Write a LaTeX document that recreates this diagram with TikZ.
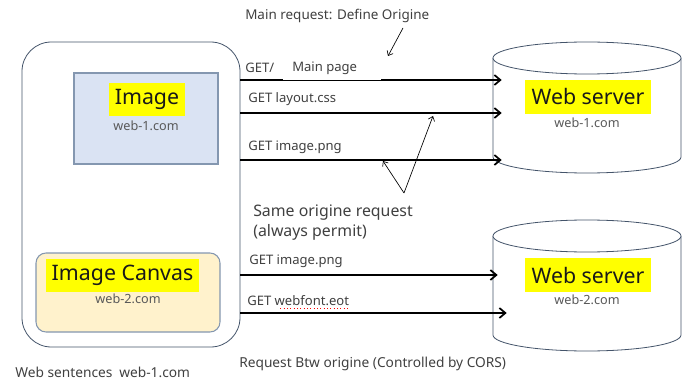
\documentclass[tikz,border=0pt]{standalone}
\usepackage{fontspec}
\setmainfont{Noto Sans}
\usetikzlibrary{arrows.meta,calc}
\definecolor{boxblue}{HTML}{DAE3F3}
\definecolor{boxcream}{HTML}{FFF2CC}
\definecolor{edgeblue}{HTML}{8497B0}
\definecolor{edgedark}{HTML}{44546A}
\definecolor{hilite}{HTML}{FFFF00}
\definecolor{labelgray}{HTML}{404040}
\definecolor{domaingray}{HTML}{595959}
\tikzset{
  request/.style={line width=1.5pt,-{Straight Barb[length=4.5pt,width=7.5pt,line width=1.3pt]}},
  pointer/.style={line width=0.5pt,-{Straight Barb[length=3pt,width=5pt]}},
  reqtext/.style={font=\fontsize{9.8}{11}\selectfont,text=labelgray,inner sep=0pt,anchor=west},
  notetext/.style={font=\fontsize{11.9}{14}\selectfont,text=labelgray,inner sep=0pt,anchor=west},
  hltitle/.style={fill=hilite,inner sep=0pt,font=\fontsize{16}{18}\selectfont,text=black!90},
  domtext/.style={font=\fontsize{9.5}{11}\selectfont,text=domaingray,inner sep=0pt},
  cyl/.style={draw=edgedark,line width=0.6pt,fill=white}
}
\begin{document}
\begin{tikzpicture}[x=0.75pt,y=-0.75pt]
\useasboundingbox (0,0) rectangle (688,381);

% browser page with its two embedded resources
\node[draw=edgedark,line width=0.6pt,rounded corners=22pt,minimum width=163.5pt,minimum height=228.75pt] (page) at (131,194.5) {};
\node[draw=edgeblue,fill=boxblue,line width=0.8pt,minimum width=108pt,minimum height=68.25pt] (img) at (146,118.5) {};
\node[hltitle,minimum width=57pt,minimum height=24.75pt] (imgt) at (147,99.5) {Image};
\node[domtext] (imgd) at (146,126) {web-1.com};
\node[draw=edgeblue,fill=boxcream,line width=0.8pt,rounded corners=7.5pt,minimum width=138pt,minimum height=59.25pt] (canvas) at (128,292.5) {};
\node[hltitle,minimum width=114.75pt,minimum height=24.75pt] (canvast) at (122.5,275.5) {Image Canvas};
\node[domtext] (canvasd) at (128,299) {web-2.com};
\node[reqtext,font=\fontsize{10.3}{12}\selectfont] (pagecap) at (15,372) {Web sentences\enspace web-1.com};

% the two servers, drawn as cylinders
\node[minimum width=141pt,minimum height=97.5pt] (srv1) at (587,107) {};
\draw[cyl] (493,58) -- (493,157) arc[start angle=180,end angle=0,x radius=94,y radius=16] -- (681,58);
\draw[cyl] (587,58) ellipse [x radius=94,y radius=16];
\node[hltitle,minimum width=94.5pt,minimum height=25.5pt] (srv1t) at (588,97) {Web server};
\node[domtext] (srv1d) at (587,123) {web-1.com};

\node[minimum width=141pt,minimum height=98pt] (srv2) at (587,285) {};
\draw[cyl] (493,236) -- (493,335) arc[start angle=180,end angle=0,x radius=94,y radius=16] -- (681,236);
\draw[cyl] (587,236) ellipse [x radius=94,y radius=16];
\node[hltitle,minimum width=94.5pt,minimum height=25.5pt] (srv2t) at (588,275) {Web server};
\node[domtext] (srv2d) at (587,300) {web-2.com};

% same-origin requests
\draw[line width=1.5pt] (page.east |- 0,80) -- (283,80);
\draw[line width=0.6pt] (283,80) -- (381,80);
\draw[request] (381,80) -- ($(srv1.west |- 0,80)+(9,0)$);
\draw[request] (page.east |- 0,113) -- ($(srv1.west |- 0,113)+(9,0)$);
\draw[request] (page.east |- 0,160) -- ($(srv1.west |- 0,160)+(9,0)$);
\node[reqtext] (r1) at (245,68) {GET/};
\node[reqtext] (r1b) at (292,68) {Main page};
\node[reqtext] (r2) at (248,99) {GET layout.css};
\node[reqtext] (r3) at (248,147) {GET image.png};

% cross-origin requests
\draw[request] (page.east |- 0,275) -- ($(srv2.west |- 0,275)+(5,0)$);
\draw[request] (page.east |- 0,313) -- ($(srv2.west |- 0,313)+(14,0)$);
\node[reqtext] (r4) at (249,261) {GET image.png};
\node[reqtext] (r5) at (247,301) {GET webfont.eot};
\draw[red,line width=0.5pt,dotted] ($(r5.south east)+(-69,2)$) -- ($(r5.south east)+(0,2)$);

% notes and their pointers
\node[reqtext,font=\fontsize{10.1}{12}\selectfont] (mainnote) at (245,16) {Main request: Define Origine};
\coordinate (mainfrom) at (403,28);
\coordinate (mainto) at (388,56);
\draw[pointer] (mainfrom) -- (mainto);
\node[notetext] (same1) at (253,213) {Same origine request};
\node[notetext] (same2) at (253,232) {(always permit)};
\coordinate (fork) at (404,193);
\coordinate (forka) at (433,116);
\coordinate (forkb) at (383,161);
\draw[pointer] (fork) -- (forka);
\draw[pointer] (fork) -- (forkb);
\node[reqtext,font=\fontsize{10.3}{12}\selectfont] (corsnote) at (239,364) {Request Btw origine (Controlled by CORS)};
\end{tikzpicture}
\end{document}
